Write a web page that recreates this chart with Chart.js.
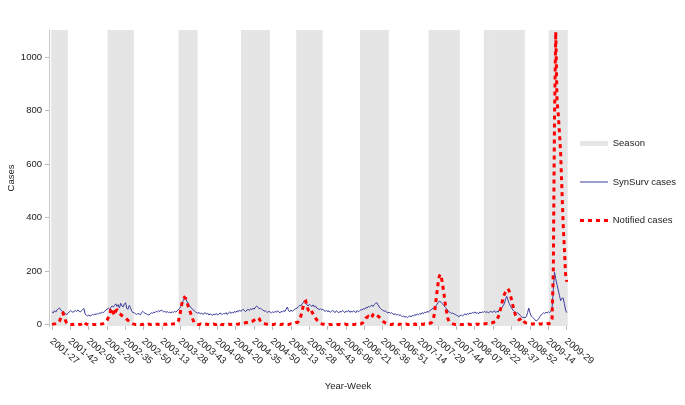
<!DOCTYPE html>
<html>
<head>
<meta charset="utf-8">
<script src="https://cdn.jsdelivr.net/npm/chart.js@4.4.1/dist/chart.umd.min.js"></script>
<style>
  body { margin: 0; background: #fff; }
</style>
</head>
<body>
<canvas id="casesChart" width="685" height="405"></canvas>
<script>
// weekly series, first value = 2001-27, last = 2009-29
const synsurv = [
  48,44,52,47,55,58,63,56,50,46,
  45,40,38,42,48,52,50,46,50,53,
  49,55,51,47,52,57,60,40,35,33,
  36,32,35,38,36,40,38,42,40,44,
  43,47,45,50,55,58,62,56,65,70,
  66,72,78,68,75,62,80,70,66,78,
  82,60,58,72,64,50,46,45,40,38,
  42,40,37,44,50,45,42,40,38,36,
  40,44,42,47,45,50,48,52,49,55,
  52,48,50,46,49,45,47,44,48,46,
  50,47,52,55,60,68,78,90,100,96,
  88,80,72,66,60,56,52,48,45,42,
  46,40,44,38,42,45,39,43,36,40,
  38,35,40,37,42,36,39,44,41,38,
  42,40,45,38,44,48,42,47,44,50,
  46,52,48,55,50,53,58,52,49,55,
  57,53,60,56,62,58,66,70,64,60,
  62,58,55,50,52,48,46,50,47,44,
  48,45,50,46,52,48,44,50,47,53,
  49,58,66,52,48,55,50,53,58,60,
  62,68,72,70,78,82,88,80,74,70,
  76,72,68,74,66,70,62,60,56,60,
  55,58,52,50,54,48,52,46,50,53,
  49,45,52,48,44,50,47,53,49,45,
  51,48,54,46,50,47,52,49,45,53,
  48,52,56,55,60,58,64,62,68,66,
  70,72,68,76,80,82,74,66,60,56,
  54,50,52,46,44,47,42,45,40,38,
  41,36,39,34,37,33,30,32,28,31,
  26,30,33,29,35,32,38,35,40,37,
  42,39,45,41,47,44,50,46,52,55,
  58,62,60,68,75,82,88,86,80,76,
  70,64,58,52,48,45,42,44,40,38,
  35,33,30,34,36,32,38,40,36,42,
  39,44,41,46,43,48,42,45,40,47,
  44,48,46,50,45,49,44,47,50,46,
  48,52,45,50,47,55,58,64,70,78,
  95,106,92,80,70,62,55,50,46,44,
  44,40,34,30,26,28,25,30,45,62,
  44,32,28,24,18,14,16,22,30,36,
  40,44,42,46,44,48,45,50,62,130,
  196,172,150,130,110,90,98,100,80,55,45
];

const notified = [
  1,2,3,4,6,8,12,25,40,43,
  30,15,6,2,1,1,0,1,0,1,
  1,0,1,1,2,4,10,5,2,1,
  0,1,0,1,1,0,1,1,2,1,
  2,3,5,8,12,18,28,40,55,62,
  45,35,52,55,48,42,38,34,30,27,
  24,20,16,12,8,5,3,2,1,1,
  1,2,0,1,1,3,1,0,1,2,
  1,1,2,1,0,1,2,1,1,3,
  2,1,2,1,3,1,2,1,2,3,
  3,4,6,12,30,55,80,95,102,98,
  85,70,58,44,30,18,9,4,2,1,
  1,2,1,0,1,1,2,1,1,0,
  1,1,2,1,1,3,6,4,1,1,
  1,0,1,1,2,1,1,2,1,2,
  1,2,2,3,3,4,5,6,7,8,
  9,10,11,12,14,17,20,24,26,22,
  14,8,5,4,3,2,2,1,2,1,
  1,1,2,1,1,2,1,1,2,1,
  1,2,1,1,2,3,3,4,6,8,
  8,12,20,32,50,70,85,88,70,55,
  52,58,48,40,32,24,18,12,8,5,
  3,2,2,1,1,0,1,1,0,1,
  1,1,0,1,1,1,0,1,1,2,
  1,1,1,0,1,1,1,1,2,1,
  1,2,3,5,10,16,24,28,31,27,
  24,30,38,42,40,36,32,28,24,18,
  13,9,7,5,3,2,1,1,2,1,
  1,0,1,1,2,1,0,1,1,2,
  1,1,2,1,1,0,3,1,1,2,
  1,2,2,1,3,2,3,4,5,6,
  10,20,40,80,118,155,182,188,170,140,
  108,72,46,22,12,7,5,3,2,1,
  1,1,2,1,0,1,1,2,1,1,
  2,1,1,2,1,1,2,1,2,1,
  1,2,2,3,3,4,3,5,6,7,
  8,10,12,18,28,42,60,80,98,112,
  122,130,134,126,110,92,72,52,38,28,
  22,18,20,24,18,12,8,6,5,4,
  3,3,2,3,2,2,3,2,3,2,
  3,2,3,3,4,3,5,8,20,200,
  780,1095,840,790,720,640,510,380,290,190,160
];

// week numbering
const years = [2001, 2002, 2003, 2004, 2005, 2006, 2007, 2008, 2009];
const yearWeeks = [52, 52, 53, 52, 52, 52, 52, 53, 52];

// influenza seasons (first and last week)
const seasons = [
  ['2001-27', '2001-39'], ['2002-21', '2002-41'], ['2003-27', '2003-41'],
  ['2004-25', '2004-47'], ['2005-18', '2005-38'], ['2006-18', '2006-40'],
  ['2007-22', '2007-46'], ['2008-15', '2008-47'], ['2009-15', '2009-29']
];

const tickLabels = [
  '2001-27', '2001-42', '2002-05', '2002-20', '2002-35', '2002-50', '2003-13',
  '2003-28', '2003-43', '2004-05', '2004-20', '2004-35', '2004-50', '2005-13',
  '2005-28', '2005-43', '2006-06', '2006-21', '2006-36', '2006-51', '2007-14',
  '2007-29', '2007-44', '2008-07', '2008-22', '2008-37', '2008-52', '2009-14',
  '2009-29'
];
const yTicks = [0, 200, 400, 600, 800, 1000];
const Y_MIN = -5, Y_MAX = 1102;

const weeks = [];
years.forEach((yr, k) => {
  for (let w = (k === 0 ? 27 : 1); w <= yearWeeks[k]; w++) {
    if (weeks.length < synsurv.length) weeks.push(yr + '-' + String(w).padStart(2, '0'));
  }
});

const seasonBars = [];
seasons.forEach(([a, b]) => {
  for (let i = weeks.indexOf(a); i <= weeks.indexOf(b); i++) {
    seasonBars.push({x: i, y: [Y_MIN, Y_MAX]});
  }
});

const FONT = '"Liberation Sans", Arial, sans-serif';
Chart.defaults.font.family = FONT;
Chart.defaults.font.size = 9.5;
Chart.defaults.color = '#222';

// x labels run down to the right, so they are drawn here
const weekLabels = {
  id: 'weekLabels',
  afterLayout(chart) {
    chart.legend.left -= 17;
    chart.legend.top += 4;
    chart.legend.bottom += 4;
  },
  afterDraw(chart) {
    const {ctx, chartArea} = chart;
    const x = chart.scales.x;
    ctx.save();
    ctx.font = '9.5px ' + FONT;
    ctx.fillStyle = '#222';
    ctx.textAlign = 'left';
    ctx.textBaseline = 'middle';
    x.ticks.forEach(t => {
      ctx.save();
      ctx.translate(x.getPixelForValue(t.value) - 1, chartArea.bottom + 14);
      ctx.rotate(40 * Math.PI / 180);
      ctx.fillText(weeks[t.value], 0, 0);
      ctx.restore();
    });
    ctx.textAlign = 'center';
    ctx.fillText('Year-Week', 348, 386);
    ctx.restore();
  }
};

const defaultLabels = Chart.defaults.plugins.legend.labels.generateLabels;

new Chart(document.getElementById('casesChart'), {
  data: {
    datasets: [{
      type: 'bar',
      label: 'Season',
      data: seasonBars,
      backgroundColor: '#e5e5e5',
      borderWidth: 0,
      barPercentage: 1,
      categoryPercentage: 1,
      pointStyle: 'rect',
      order: 3
    }, {
      type: 'line',
      label: 'SynSurv cases',
      data: synsurv.map((v, i) => ({x: i, y: v})),
      borderColor: '#3c3c9c',
      borderWidth: 1,
      pointRadius: 0,
      pointStyle: 'line',
      tension: 0,
      order: 2
    }, {
      type: 'line',
      label: 'Notified cases',
      data: notified.map((v, i) => ({x: i, y: v})),
      borderColor: '#ff0000',
      borderWidth: 3,
      borderDash: [4, 4],
      pointRadius: 0,
      pointStyle: 'line',
      tension: 0,
      order: 1
    }]
  },
  options: {
    responsive: false,
    animation: false,
    events: [],
    layout: {padding: {top: 30, left: 0, right: 0, bottom: 0}},
    scales: {
      x: {
        type: 'linear',
        offset: false,
        min: -2.5,
        max: 421,
        afterBuildTicks: s => { s.ticks = tickLabels.map(l => ({value: weeks.indexOf(l)})); },
        afterFit: s => { s.height = 79; },
        ticks: {display: false},
        grid: {offset: false, drawOnChartArea: false, tickLength: 4, color: '#bbb'},
        border: {display: false}
      },
      y: {
        min: Y_MIN,
        max: Y_MAX,
        afterBuildTicks: s => { s.ticks = yTicks.map(v => ({value: v})); },
        afterFit: s => { s.width = 49; },
        ticks: {padding: 3, callback: v => String(v)},
        grid: {drawOnChartArea: false, tickLength: 4, color: '#bbb'},
        border: {display: true, color: '#c8c8c8'},
        title: {display: true, text: 'Cases', padding: {top: 6, bottom: 0}}
      }
    },
    plugins: {
      tooltip: {enabled: false},
      legend: {
        position: 'right',
        fullSize: false,
        maxWidth: 117,
        labels: {
          usePointStyle: true,
          pointStyleWidth: 28,
          boxHeight: 5,
          padding: 29,
          sort: (a, b) => a.datasetIndex - b.datasetIndex,
          generateLabels: chart => defaultLabels(chart).map(item => ({
            ...item,
            lineDash: chart.data.datasets[item.datasetIndex].borderDash || []
          }))
        }
      }
    }
  },
  plugins: [weekLabels]
});
</script>
</body>
</html>
